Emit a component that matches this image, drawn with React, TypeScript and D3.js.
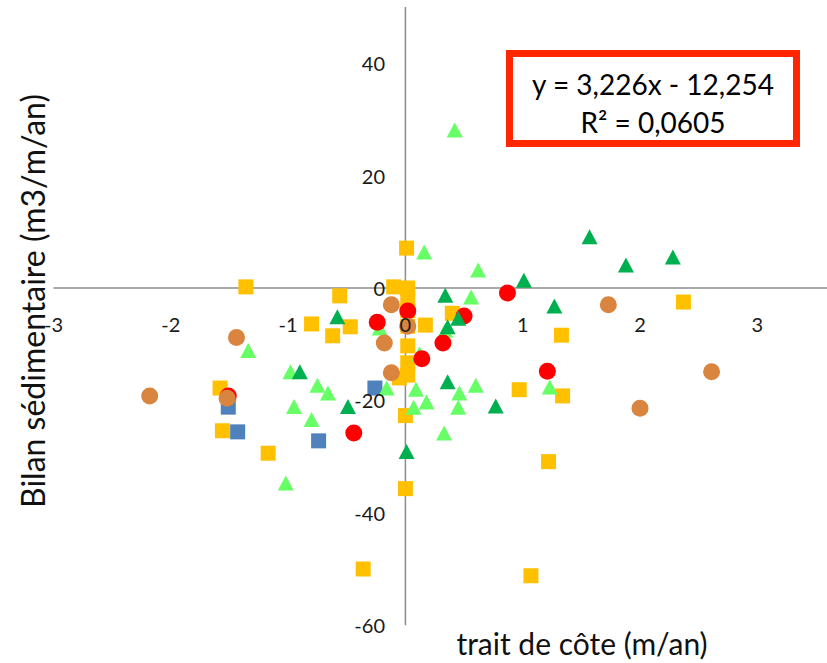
import React, { useRef, useEffect } from "react";
import * as d3 from "d3";

// trait de côte (m/an) vs bilan sédimentaire (m3/m/an), one array per group
const yellowSquares: [number, number][] = [
  [0.01, 7.1], [-1.36, 0.2], [-0.56, -1.4], [-0.1, 0.2], [0.02, 0.0], [0.02, -1.8],
  [0.02, -4.0], [0.02, -6.8], [0.02, -10.3], [0.02, -13.3], [0.02, -15.5], [-0.05, -16.0],
  [-0.8, -6.4], [-0.47, -6.9], [-0.62, -8.5], [0.17, -6.6], [0.4, -4.5], [1.33, -8.4],
  [0.97, -18.1], [1.34, -19.2], [2.37, -2.5], [1.22, -30.9], [1.07, -51.2], [-1.58, -17.8],
  [-1.56, -25.4], [-1.17, -29.4], [-0.36, -50.0], [0.0, -35.7], [0.0, -22.7],
];
const blueSquares: [number, number][] = [
  [-1.51, -21.2], [-1.43, -25.6], [-0.74, -27.2], [-0.26, -17.8],
];
const lightGreenTriangles: [number, number][] = [
  [0.42, 28.1], [0.16, 6.4], [0.62, 3.2], [0.56, -1.6], [0.6, -17.3], [0.46, -18.7],
  [0.45, -21.2], [1.23, -17.6], [0.09, -18.0], [0.18, -20.3], [0.07, -21.2], [0.33, -25.8],
  [-0.16, -17.8], [-0.98, -14.9], [-0.75, -17.3], [-0.66, -18.7], [-0.95, -21.1], [-0.8, -23.4],
  [-0.22, -7.1], [-1.34, -11.1], [-1.02, -34.7], [0.12, -11.7], [0.34, -7.5],
];
const redCircles: [number, number][] = [
  [0.87, -0.9], [0.5, -5.0], [0.32, -9.8], [1.21, -14.8], [-0.24, -6.1], [0.02, -4.1],
  [0.14, -12.6], [-0.44, -25.8], [-1.51, -19.2],
];
const brownCircles: [number, number][] = [
  [-0.12, -3.0], [0.02, -6.8], [-0.18, -9.8], [-0.12, -15.1], [1.73, -3.0], [2.61, -14.9],
  [2.0, -21.4], [-2.18, -19.2], [-1.44, -8.8], [-1.52, -19.6],
];
const darkGreenTriangles: [number, number][] = [
  [1.57, 9.1], [1.88, 4.1], [2.28, 5.5], [1.01, 1.4], [1.27, -3.2], [0.34, -1.3],
  [0.45, -5.4], [0.36, -6.9], [0.36, -16.7], [0.77, -21.0], [-0.58, -5.1], [-0.9, -14.9],
  [-0.49, -21.1], [0.01, -29.1],
];

const xTicks = [-3, -2, -1, 0, 1, 2, 3];
const yTicks = [40, 20, 0, -20, -40, -60];
const equation = ["y = 3,226x - 12,254", "R² = 0,0605"];

const FONT = "Lato, 'Noto Sans', sans-serif";

export default function App() {
  const svgRef = useRef<SVGSVGElement>(null);

  useEffect(() => {
    d3.select(svgRef.current).selectAll("*").remove();

    const width = 827;
    const height = 663;

    const svg = d3.select(svgRef.current)
      .attr("width", width)
      .attr("height", height)
      .style("position", "absolute")
      .style("left", "0px")
      .style("top", "0px")
      .style("background", "#fff");

    // scales
    const x = d3.scaleLinear().domain([-3, 3.6]).range([53.5, 827.7]);
    const y = d3.scaleLinear().domain([-60, 50]).range([625.2, 7]);

    // axes cross at the origin
    svg.append("line")
      .attr("x1", x(-3)).attr("x2", x(3.6))
      .attr("y1", y(0)).attr("y2", y(0))
      .attr("stroke", "#8c8c8c").attr("stroke-width", 1.5);
    svg.append("line")
      .attr("x1", x(0)).attr("x2", x(0))
      .attr("y1", y(50)).attr("y2", y(-60))
      .attr("stroke", "#8c8c8c").attr("stroke-width", 1.5);

    const squares = (data: [number, number][], color: string) => {
      const s = 15;
      svg.append("g").selectAll("rect")
        .data(data)
        .join("rect")
        .attr("x", d => x(d[0]) - s / 2)
        .attr("y", d => y(d[1]) - s / 2)
        .attr("width", s)
        .attr("height", s)
        .attr("fill", color);
    };
    const circles = (data: [number, number][], color: string) => {
      svg.append("g").selectAll("circle")
        .data(data)
        .join("circle")
        .attr("cx", d => x(d[0]))
        .attr("cy", d => y(d[1]))
        .attr("r", 8.5)
        .attr("fill", color);
    };
    const triangles = (data: [number, number][], color: string) => {
      const w = 16, h = 15;
      svg.append("g").selectAll("path")
        .data(data)
        .join("path")
        .attr("d", d => {
          const cx = x(d[0]), cy = y(d[1]);
          return `M${cx},${cy - h / 2}L${cx + w / 2},${cy + h / 2}L${cx - w / 2},${cy + h / 2}Z`;
        })
        .attr("fill", color);
    };

    squares(yellowSquares, "#ffc000");
    squares(blueSquares, "#4f81bd");
    triangles(lightGreenTriangles, "#66ff66");
    circles(redCircles, "#ff0000");
    circles(brownCircles, "#d9843f");
    triangles(darkGreenTriangles, "#00b050");

    // tick labels
    svg.append("g").selectAll("text")
      .data(xTicks)
      .join("text")
      .attr("x", d => x(d))
      .attr("y", 324)
      .attr("text-anchor", "middle")
      .attr("dominant-baseline", "central")
      .attr("font-family", FONT)
      .attr("font-size", 20)
      .attr("fill", "#1a1a1a")
      .text(d => d);

    svg.append("g").selectAll("text")
      .data(yTicks)
      .join("text")
      .attr("x", 385)
      .attr("y", d => y(d))
      .attr("text-anchor", "end")
      .attr("dominant-baseline", "central")
      .attr("font-family", FONT)
      .attr("font-size", 20)
      .attr("fill", "#1a1a1a")
      .text(d => d);

    // axis titles
    svg.append("text")
      .attr("transform", "translate(45,301) rotate(-90)")
      .attr("text-anchor", "middle")
      .attr("font-family", FONT)
      .attr("font-size", 32)
      .attr("fill", "#111")
      .text("Bilan sédimentaire (m3/m/an)");

    svg.append("text")
      .attr("x", 582)
      .attr("y", 655)
      .attr("text-anchor", "middle")
      .attr("font-family", FONT)
      .attr("font-size", 30)
      .attr("fill", "#111")
      .text("trait de côte (m/an)");

    // equation box
    svg.append("rect")
      .attr("x", 509.5)
      .attr("y", 53.5)
      .attr("width", 287)
      .attr("height", 90)
      .attr("fill", "#fff")
      .attr("stroke", "#ff2600")
      .attr("stroke-width", 7);

    svg.append("g").selectAll("text")
      .data(equation)
      .join("text")
      .attr("x", 653)
      .attr("y", (d, i) => 95 + i * 38)
      .attr("text-anchor", "middle")
      .attr("font-family", FONT)
      .attr("font-size", 28)
      .attr("fill", "#000")
      .text(d => d);
  }, []);

  return (
    <div>
      <svg ref={svgRef}></svg>
    </div>
  );
}
